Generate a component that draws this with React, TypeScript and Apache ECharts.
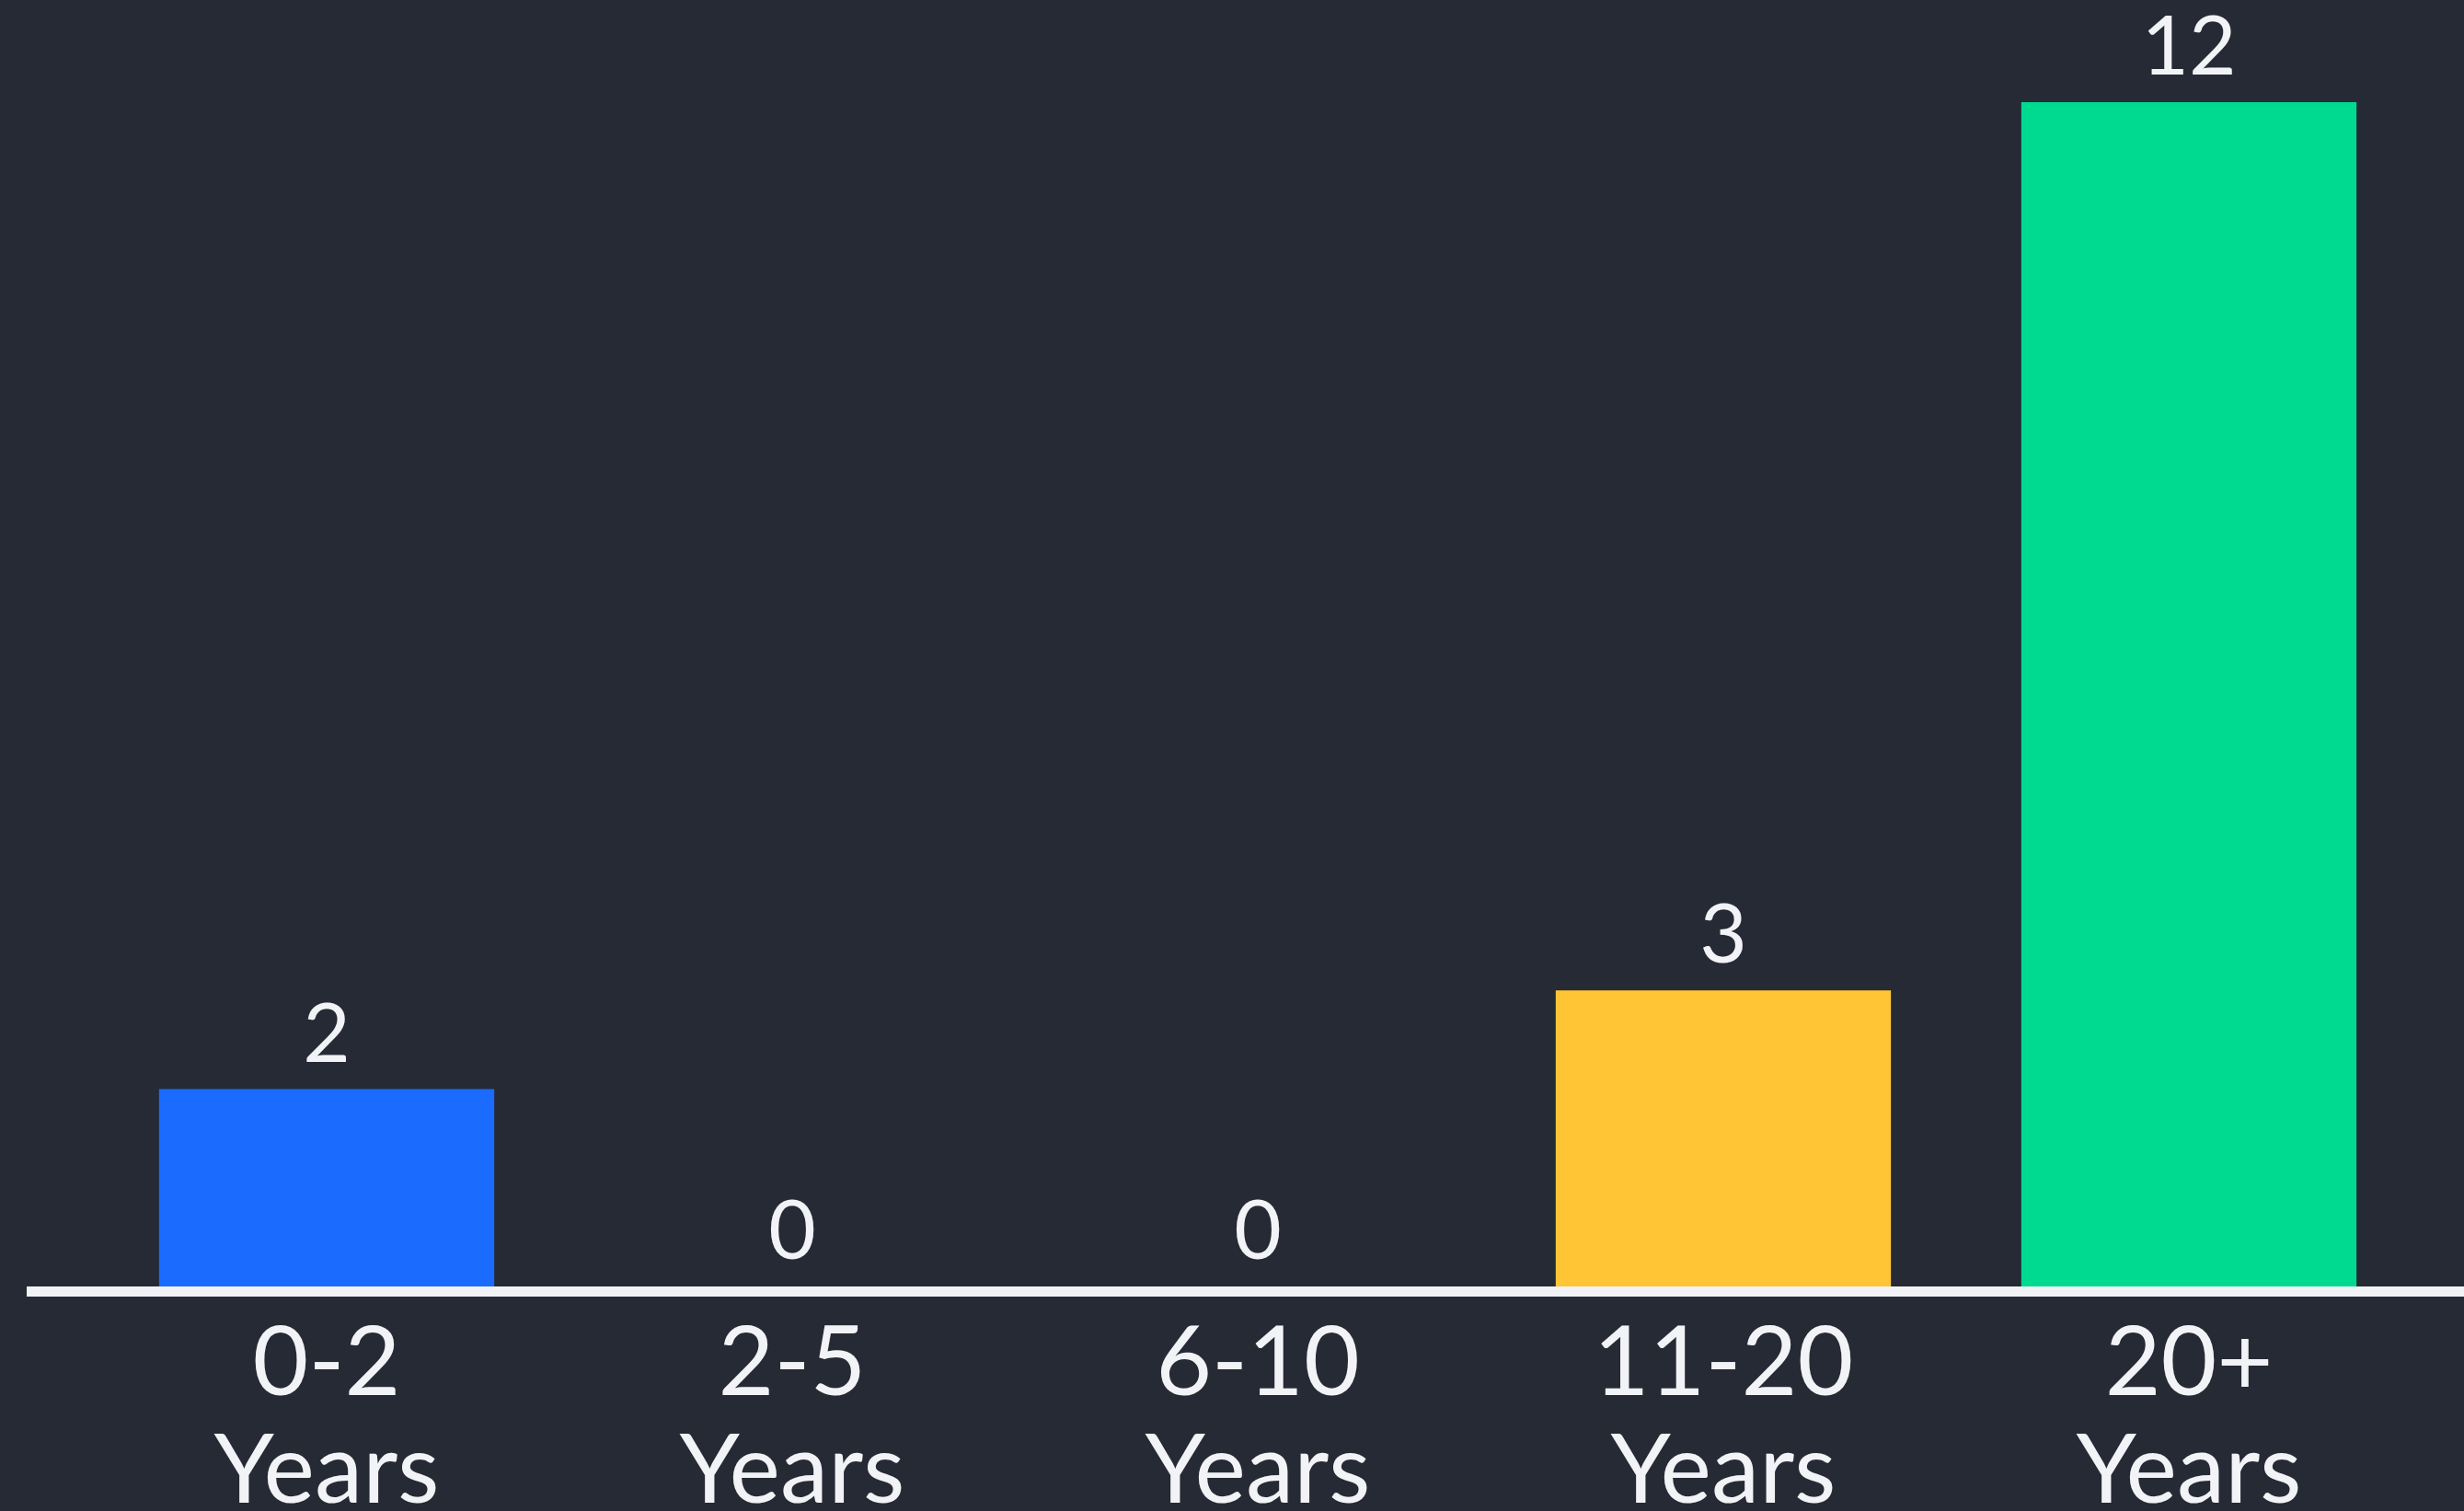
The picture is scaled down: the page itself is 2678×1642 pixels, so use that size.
import React, { useEffect, useRef } from "react";
import * as echarts from "echarts";

const categories = ["0-2\nYears", "2-5\nYears", "6-10\nYears", "11-20\nYears", "20+\nYears"];
const values = [2, 0, 0, 3, 12];
const barColors = ["#1b6bff", "#1b6bff", "#1b6bff", "#ffc535", "#00d990"];

const W = 2678;
const H = 1642;
const BG = "#262a35";
const FG = "#f2f3f7";
const FONT = "Lato, 'Noto Sans', sans-serif";

export default function App() {
  const ref = useRef<HTMLDivElement>(null);
  useEffect(() => {
    if (!ref.current) return;
    const chart = echarts.init(ref.current, null, { renderer: "svg", width: W, height: H });
    const gridTop = 111;
    const gridHeight = 1287;
    const baseY = gridTop + gridHeight;
    chart.setOption({
      animation: false,
      backgroundColor: BG,
      grid: {
        left: 102,
        right: 46,
        top: gridTop,
        height: gridHeight,
        containLabel: false,
        outerBoundsMode: "none",
      },
      xAxis: {
        type: "category",
        data: categories,
        axisLine: { show: false },
        axisTick: { show: false },
        axisLabel: {
          color: FG,
          fontSize: 105,
          fontFamily: FONT,
          lineHeight: 117,
          margin: 18,
          interval: 0,
        },
      },
      yAxis: {
        type: "value",
        min: 0,
        max: 12,
        show: false,
        splitLine: { show: false },
      },
      graphic: [
        {
          type: "line",
          z: 10,
          shape: { x1: 29, y1: baseY + 5.5, x2: W, y2: baseY + 5.5 },
          style: { stroke: FG, lineWidth: 11 },
        },
      ],
      series: [
        {
          type: "bar",
          barWidth: "72%",
          data: values.map((v, i) => ({ value: v, itemStyle: { color: barColors[i] } })),
          label: {
            show: true,
            position: "top",
            distance: 20,
            color: FG,
            fontSize: 89,
            fontFamily: FONT,
          },
        },
      ],
    });
    return () => chart.dispose();
  }, []);
  return (
    <div
      ref={ref}
      style={{ position: "fixed", left: 0, top: 0, width: W, height: H, background: BG }}
    />
  );
}
